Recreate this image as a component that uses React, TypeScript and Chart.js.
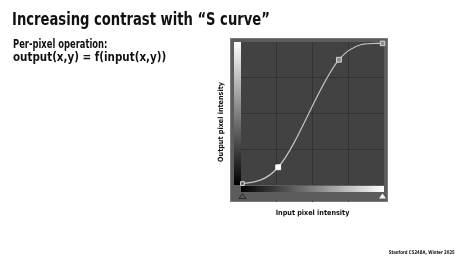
import React, { useEffect, useRef } from 'react';
import { Chart, registerables } from 'chart.js';

Chart.register(...registerables);

// ---- data ----
const inputValues = [0.01, 0.26, 0.685, 0.99];
const outputValues = [0.01, 0.124, 0.876, 0.99];
const gridTicks = [0.25, 0.5, 0.75];
const outputAxisMin = -0.119; // room for the input gradient strip under the curve box
const pointFills = ['#5a5a5a', '#ffffff', '#8c8c8c', '#8c8c8c'];
const pointBorders = ['#e0e0e0', '#ffffff', '#d8d8d8', '#d8d8d8'];
const pointSizes = [2.6, 3.4, 3.4, 3.2];

const titleText = 'Increasing contrast with \u201CS curve\u201D';
const subtitle1 = 'Per-pixel operation:';
const subtitle2 = 'output(x,y) = f(input(x,y))';
const xTitle = 'Input pixel intensity';
const yTitle = 'Output pixel intensity';
const footerText = 'Stanford CS248A, Winter 2025';

const FONT = "'Liberation Sans Narrow', 'DejaVu Sans Condensed', 'Roboto', sans-serif";
const curveColor = '#c4c4c4';
const gridColor = '#333333';
const plotBg = '#424242';
const panelBg = '#5c5c5c';

const panelPlugin = {
  id: 'curvesPanel',
  beforeDraw(chart: any) {
    const { ctx, chartArea: ca, scales } = chart;
    const y0 = scales.y.getPixelForValue(0);
    ctx.save();
    // outer panel
    ctx.fillStyle = panelBg;
    ctx.fillRect(ca.left - 11, ca.top - 4, ca.right - ca.left + 15, ca.bottom - ca.top + 4);
    ctx.strokeStyle = '#7c7c7c';
    ctx.lineWidth = 1;
    ctx.strokeRect(ca.left - 10.5, ca.top - 3.5, ca.right - ca.left + 14, ca.bottom - ca.top + 3);
    // plot background
    ctx.fillStyle = plotBg;
    ctx.fillRect(ca.left, ca.top, ca.right - ca.left, y0 - ca.top);
    // vertical output gradient
    const gv = ctx.createLinearGradient(0, ca.top, 0, y0);
    gv.addColorStop(0, '#ffffff');
    gv.addColorStop(1, '#000000');
    ctx.fillStyle = gv;
    ctx.fillRect(ca.left - 7, ca.top, 7, y0 - ca.top);
    ctx.restore();
  },
  beforeDatasetsDraw(chart: any) {
    const { ctx, chartArea: ca, scales } = chart;
    const y0 = scales.y.getPixelForValue(0);
    ctx.save();
    ctx.fillStyle = panelBg;
    ctx.fillRect(ca.left, y0, ca.right - ca.left, ca.bottom - y0 - 1);
    // horizontal input gradient
    const gh = ctx.createLinearGradient(ca.left, 0, ca.right, 0);
    gh.addColorStop(0, '#000000');
    gh.addColorStop(1, '#ffffff');
    ctx.fillStyle = gh;
    ctx.fillRect(ca.left, y0 + 1, ca.right - ca.left, 6);
    // black point slider (outline)
    const ty = y0 + 8.5;
    ctx.beginPath();
    ctx.moveTo(ca.left + 1.5, ty);
    ctx.lineTo(ca.left + 5, ty + 5);
    ctx.lineTo(ca.left - 2, ty + 5);
    ctx.closePath();
    ctx.strokeStyle = '#2a2a2a';
    ctx.lineWidth = 1;
    ctx.stroke();
    // white point slider (filled)
    ctx.beginPath();
    ctx.moveTo(ca.right - 1.5, ty);
    ctx.lineTo(ca.right + 2, ty + 5);
    ctx.lineTo(ca.right - 5, ty + 5);
    ctx.closePath();
    ctx.fillStyle = '#f4f4f4';
    ctx.fill();
    ctx.restore();
  },
};

// Photoshop-style curve: natural cubic spline through the control points,
// expressed as Bezier control points on Chart.js' own line element.
const splinePlugin = {
  id: 'naturalSpline',
  beforeDatasetDraw(chart: any, args: any) {
    const meta = args.meta;
    const line = meta.dataset;
    const pts = meta.data;
    if (!line || !pts || pts.length < 3) return;
    line.updateControlPoints(chart.chartArea, 'x');
    const n = pts.length;
    const xs = pts.map((p: any) => p.x);
    const ys = pts.map((p: any) => p.y);
    const h: number[] = [];
    const d: number[] = [];
    for (let i = 0; i < n - 1; i++) {
      h[i] = xs[i + 1] - xs[i];
      d[i] = (ys[i + 1] - ys[i]) / h[i];
    }
    const M = new Array(n).fill(0);
    const m = n - 2;
    const a: number[] = [], b: number[] = [], c: number[] = [], r: number[] = [];
    for (let k = 0; k < m; k++) {
      const i = k + 1;
      a[k] = h[i - 1];
      b[k] = 2 * (h[i - 1] + h[i]);
      c[k] = h[i];
      r[k] = 6 * (d[i] - d[i - 1]);
    }
    for (let k = 1; k < m; k++) {
      const w = a[k] / b[k - 1];
      b[k] -= w * c[k - 1];
      r[k] -= w * r[k - 1];
    }
    const sol: number[] = new Array(m).fill(0);
    for (let k = m - 1; k >= 0; k--) {
      sol[k] = (r[k] - (k < m - 1 ? c[k] * sol[k + 1] : 0)) / b[k];
    }
    for (let k = 0; k < m; k++) M[k + 1] = sol[k];
    const slope: number[] = [];
    for (let i = 0; i < n - 1; i++) slope[i] = d[i] - (h[i] * (2 * M[i] + M[i + 1])) / 6;
    slope[n - 1] = d[n - 2] + (h[n - 2] * (M[n - 2] + 2 * M[n - 1])) / 6;
    for (let i = 0; i < n - 1; i++) {
      const t = h[i] / 3;
      pts[i].cp2x = xs[i] + t;
      pts[i].cp2y = ys[i] + slope[i] * t;
      pts[i + 1].cp1x = xs[i + 1] - t;
      pts[i + 1].cp1y = ys[i + 1] - slope[i + 1] * t;
    }
    pts[0].cp1x = xs[0];
    pts[0].cp1y = ys[0];
    pts[n - 1].cp2x = xs[n - 1];
    pts[n - 1].cp2y = ys[n - 1];
  },
};

export default function App() {
  const ref = useRef<HTMLCanvasElement>(null);
  useEffect(() => {
    const canvas = ref.current;
    if (!canvas) return;
    const axisTitleFont = { family: FONT, size: 7.2, weight: 'bold' as const, lineHeight: 1.2 };
    const chart = new Chart(canvas, {
      type: 'line',
      data: {
        datasets: [
          {
            data: inputValues.map((x, i) => ({ x, y: outputValues[i] })),
            borderColor: curveColor,
            borderWidth: 1.2,
            tension: 0.4,
            capBezierPoints: false,
            fill: false,
            pointStyle: 'rect',
            pointRadius: pointSizes,
            pointBackgroundColor: pointFills,
            pointBorderColor: pointBorders,
            pointBorderWidth: 1,
            clip: 8,
          } as any,
        ],
      },
      options: {
        animation: false,
        responsive: false,
        events: [],
        layout: { padding: { left: 217, top: 42, right: 78, bottom: 43 } },
        plugins: { legend: { display: false }, tooltip: { enabled: false } },
        scales: {
          x: {
            type: 'linear',
            min: 0,
            max: 1,
            ticks: { display: false },
            grid: { color: gridColor, drawTicks: false, lineWidth: 1 },
            border: { display: false },
            afterBuildTicks: (s: any) => {
              s.ticks = gridTicks.map((v) => ({ value: v }));
            },
            afterFit: (s: any) => {
              s.height = 15;
            },
            title: { display: true, text: xTitle, color: '#111111', font: axisTitleFont, padding: 0 },
          },
          y: {
            type: 'linear',
            min: outputAxisMin,
            max: 1,
            ticks: { display: false },
            grid: { color: gridColor, drawTicks: false, lineWidth: 1 },
            border: { display: false },
            afterBuildTicks: (s: any) => {
              s.ticks = gridTicks.map((v) => ({ value: v }));
            },
            afterFit: (s: any) => {
              s.width = 24;
            },
            title: { display: true, text: yTitle, color: '#111111', font: axisTitleFont, padding: 0 },
          },
        },
      } as any,
      plugins: [panelPlugin, splinePlugin],
    });
    return () => chart.destroy();
  }, []);

  const text = (extra: React.CSSProperties): React.CSSProperties => ({
    position: 'absolute',
    fontFamily: FONT,
    fontWeight: 700,
    color: '#111111',
    whiteSpace: 'nowrap',
    margin: 0,
    ...extra,
  });

  return (
    <div style={{ position: 'fixed', left: 0, top: 0, width: 462, height: 260, background: '#ffffff', overflow: 'hidden' }}>
      <canvas ref={ref} width={462} height={260} style={{ position: 'absolute', left: 0, top: 0, width: 462, height: 260 }} />
      <div style={text({ left: 12, top: 10, fontSize: 18.5, lineHeight: '18px', transform: 'scaleX(0.79)', transformOrigin: 'left center' })}>{titleText}</div>
      <div style={text({ left: 13, top: 39, fontSize: 11.5, lineHeight: '11.5px', transform: 'scaleX(0.81)', transformOrigin: 'left center' })}>{subtitle1}</div>
      <div style={text({ left: 13, top: 52, fontSize: 11.5, lineHeight: '11.5px' })}>{subtitle2}</div>
      <div style={text({ right: 7, top: 250, fontSize: 5, lineHeight: '5px', transform: 'scaleX(0.85)', transformOrigin: 'right center' })}>{footerText}</div>
    </div>
  );
}
